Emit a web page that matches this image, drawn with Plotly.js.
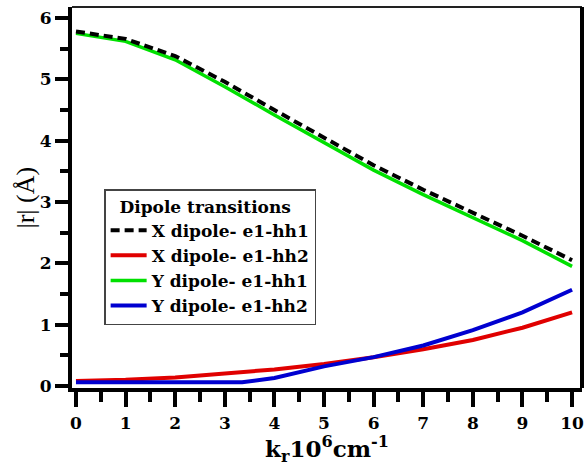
<!DOCTYPE html>
<html><head><meta charset="utf-8">
<script src="https://cdn.plot.ly/plotly-3.0.1.min.js"></script>
<style>html,body{margin:0;padding:0;background:#fff}</style>
</head><body><div id="chart" style="width:585px;height:466px"></div>
<script>
const kX = [0,1,2,3,4,5,6,7,8,9,10];
const xHh1 = [5.78,5.66,5.38,4.96,4.50,4.05,3.60,3.20,2.82,2.45,2.05];
const xHh2 = [0.08,0.10,0.14,0.20,0.27,0.36,0.47,0.60,0.75,0.95,1.20];
const yHh1 = [5.75,5.62,5.32,4.88,4.42,3.97,3.52,3.12,2.75,2.37,1.95];
const kBlue = [0,1,2,3,3.35,4,5,6,7,8,9,10];
const yHh2 = [0.06,0.06,0.06,0.06,0.06,0.13,0.32,0.47,0.66,0.91,1.20,1.57];
const xTicks = [0,1,2,3,4,5,6,7,8,9,10];
const yTicks = [0,1,2,3,4,5,6];
const yTitle = '|r| (Å)';
const legendTitle = 'Dipole transitions';
const names = ['X dipole- e1-hh1','X dipole- e1-hh2','Y dipole- e1-hh1','Y dipole- e1-hh2'];

const F = 'DejaVu Serif, serif';
const FT = 'Liberation Serif, Times New Roman, serif';
const traces = [
  {x:kX, y:xHh2, name:names[1], mode:'lines', legendrank:2, line:{color:'#e00000', width:4}},
  {x:kBlue, y:yHh2, name:names[3], mode:'lines', legendrank:4, line:{color:'#0000d0', width:4}},
  {x:kX, y:yHh1, name:names[2], mode:'lines', legendrank:3, line:{color:'#00e000', width:3.5}},
  {x:kX, y:xHh1, name:names[0], mode:'lines', legendrank:1, line:{color:'#000000', width:4, dash:'9px,5px'}}
];
const axisCommon = {
  showgrid:false, zeroline:false, showline:true, linewidth:4, linecolor:'#000',
  ticks:'outside', tickwidth:4, tickcolor:'#000',
  tickfont:{family:F, size:17, weight:'bold', color:'#000'}
};
const layout = {
  width:585, height:466,
  margin:{l:72, r:3, t:7, b:78},
  paper_bgcolor:'#fff', plot_bgcolor:'#fff',
  showlegend:true,
  xaxis:Object.assign({}, axisCommon, {
    range:[-0.08,10.2], tickvals:xTicks, ticklen:15, ticklabelstandoff:2,
    minor:{ticks:'outside', ticklen:10, tickwidth:4, tickcolor:'#000', dtick:0.5, tick0:0},
    title:{text:'k<sub>r</sub>10<sup>6</sup>cm<sup>-1</sup>', font:{family:F, size:23, weight:'bold', color:'#000'}, standoff:4}
  }),
  yaxis:Object.assign({}, axisCommon, {
    range:[-0.033,6.18], tickvals:yTicks, ticklen:13, ticklabelstandoff:0,
    minor:{ticks:'outside', ticklen:8, tickwidth:4, tickcolor:'#000', dtick:0.5, tick0:0}
  }),
  annotations:[
    {text:yTitle, xref:'paper', yref:'paper', x:-0.092, y:0.5, xanchor:'center', yanchor:'middle',
     textangle:-90, showarrow:false, font:{family:FT, size:26, color:'#000'}}
  ],
  legend:{
    x:0.063, y:0.522, xanchor:'left', yanchor:'top',
    bgcolor:'#fff', bordercolor:'#444', borderwidth:1.5, itemwidth:36,
    font:{family:F, size:17, weight:'bold', color:'#000'},
    title:{text:'&nbsp;&nbsp;' + legendTitle, font:{family:F, size:17, weight:'bold', color:'#000'}},
    traceorder:'normal'
  },
  shapes:[
    {type:'line', xref:'paper', yref:'paper', x0:0, x1:1, y0:1, y1:1, line:{color:'#222', width:2}},
    {type:'line', xref:'paper', yref:'paper', x0:1, x1:1, y0:0, y1:1, line:{color:'#000', width:4}}
  ]
};
Plotly.newPlot('chart', traces, layout, {displayModeBar:false, staticPlot:true});
</script></body></html>
